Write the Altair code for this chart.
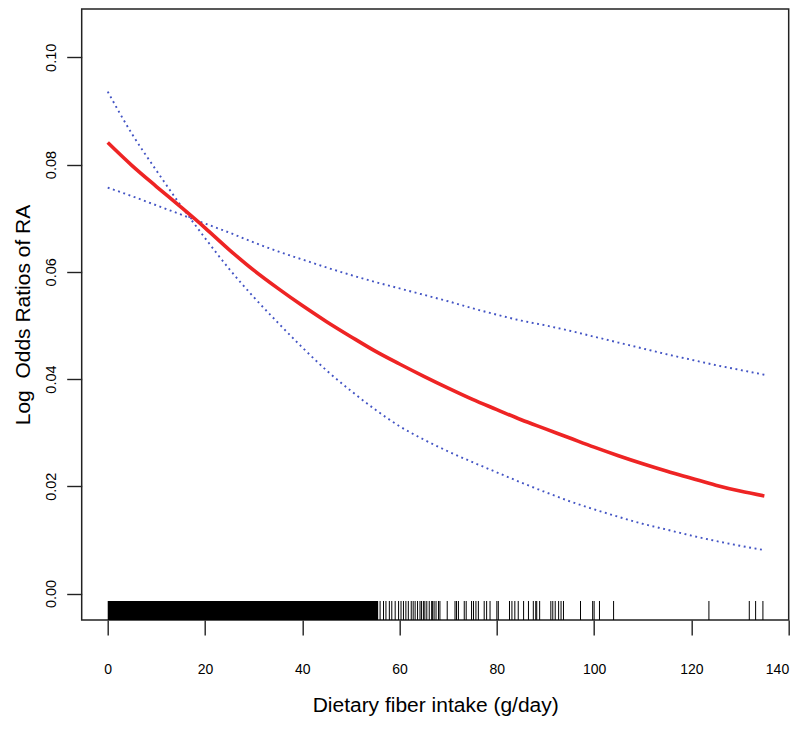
import altair as alt
import pandas as pd

# ---- data ----
fiber_x = [0, 5, 10, 15, 20, 25, 30, 35, 40, 45, 50, 55, 60, 65, 70, 75, 80, 85,
           90, 95, 100, 105, 110, 115, 120, 125, 130, 135]
log_or = [0.0841, 0.0798, 0.0759, 0.0721, 0.0682, 0.0641, 0.0603, 0.0569, 0.0537,
          0.0507, 0.0479, 0.0452, 0.0428, 0.0405, 0.0383, 0.0362, 0.0343, 0.0324,
          0.0307, 0.0290, 0.0273, 0.0257, 0.0242, 0.0228, 0.0215, 0.0202, 0.0191,
          0.0182]
ci_steep = [0.0936, 0.0857, 0.0789, 0.0724, 0.0663, 0.0605, 0.0553, 0.0505, 0.0459,
            0.0416, 0.0378, 0.0343, 0.0312, 0.0287, 0.0265, 0.0245, 0.0226, 0.0207,
            0.0189, 0.0172, 0.0157, 0.0143, 0.0130, 0.0119, 0.0108, 0.0098, 0.0089,
            0.0081]
ci_flat = [0.0757, 0.0741, 0.0724, 0.0707, 0.0690, 0.0673, 0.0655, 0.0638, 0.0623,
           0.0608, 0.0594, 0.0581, 0.0569, 0.0557, 0.0545, 0.0532, 0.0520, 0.0509,
           0.0500, 0.0490, 0.0479, 0.0468, 0.0457, 0.0446, 0.0436, 0.0426, 0.0417,
           0.0408]

# rug: a continuous dense band of observations, then sparse individual values
rug_dense_start = 0.0
rug_dense_end = 55.6
rug_sparse = [56.0, 56.7, 57.2, 57.9, 58.4, 59.1, 59.8, 60.3, 60.8, 61.3, 61.8, 62.4,
              62.8, 63.2, 63.7, 64.2, 64.5, 64.9, 65.2, 65.6, 66.1, 66.6, 66.8, 67.1,
              67.5, 68.0, 68.3, 69.8, 71.4, 71.7, 72.1, 73.3, 73.7, 74.8, 75.2, 75.7,
              76.2, 77.4, 77.9, 78.6, 80.0, 80.3, 82.6, 83.1, 83.7, 84.4, 85.5, 86.5,
              87.5, 88.0, 88.2, 88.8, 91.1, 91.5, 92.0, 92.7, 93.2, 93.7, 97.2, 99.7,
              100.0, 101.1, 104.0, 123.6, 131.9, 133.2, 134.7]

x_ticks = [0, 20, 40, 60, 80, 100, 120, 140]
y_ticks = [0.00, 0.02, 0.04, 0.06, 0.08, 0.10]

x_title = "Dietary fiber intake (g/day)"
y_title = "Log\u00a0 Odds Ratios of RA"

# ---- tables ----
fit_df = pd.DataFrame({"x": fiber_x, "y": log_or})
ci_df = pd.concat([
    pd.DataFrame({"x": fiber_x, "y": ci_steep, "band": "a"}),
    pd.DataFrame({"x": fiber_x, "y": ci_flat, "band": "b"}),
])
rug_df = pd.DataFrame({"x": rug_sparse})
dense_df = pd.DataFrame({"x": [rug_dense_start], "x2": [rug_dense_end]})

FONT = "Liberation Sans"
W, H = 707, 611

xscale = alt.Scale(domain=[-5.35, 140], nice=False, zero=False)
yscale = alt.Scale(domain=[-0.00494, 0.10901], nice=False, zero=False)

xaxis = alt.Axis(values=x_ticks, title=x_title, grid=False, domain=False,
                 tickSize=15, tickWidth=1.4, tickColor="#222",
                 labelFont=FONT, labelFontSize=14, labelColor="#000",
                 labelPadding=28, labelBaseline="top",
                 titleFont=FONT, titleFontSize=21, titleFontWeight="normal",
                 titleColor="#000", titlePadding=18, labelFlush=True)
yaxis = alt.Axis(values=y_ticks, format=".2f", title=y_title, grid=False,
                 domain=False, tickSize=15, tickWidth=1.4, tickColor="#222",
                 labelFont=FONT, labelFontSize=14.5, labelColor="#000",
                 labelAngle=270, labelAlign="center", labelBaseline="bottom",
                 labelPadding=8, labelFlush=False,
                 titleFont=FONT, titleFontSize=21, titleFontWeight="normal",
                 titleColor="#000", titlePadding=10)

base_x = alt.X("x:Q", scale=xscale, axis=xaxis)

fit = alt.Chart(fit_df).mark_line(color="#EE2424", strokeWidth=3.6,
                                  interpolate="monotone").encode(
    x=base_x,
    y=alt.Y("y:Q", scale=yscale, axis=yaxis),
)

ci = alt.Chart(ci_df).mark_line(color="#4354C4", strokeWidth=1.9,
                                 strokeDash=[1.9, 3.6],
                                 interpolate="monotone").encode(
    x=alt.X("x:Q", scale=xscale),
    y=alt.Y("y:Q", scale=yscale),
    detail="band:N",
)

rug_top = H - 19
dense = alt.Chart(dense_df).mark_rect(color="#000").encode(
    x=alt.X("x:Q", scale=xscale),
    x2="x2:Q",
    y=alt.value(rug_top),
    y2=alt.value(H),
)

rug = alt.Chart(rug_df).mark_rule(color="#000", strokeWidth=1).encode(
    x=alt.X("x:Q", scale=xscale),
    y=alt.value(rug_top),
    y2=alt.value(H),
)

chart = alt.layer(dense, rug, ci, fit).properties(
    width=W,
    height=H,
    autosize=alt.AutoSizeParams(type="none"),
    padding={"left": 73.7, "top": 1, "right": 3, "bottom": 100},
    background="white",
).configure_view(stroke="#222", strokeWidth=1.5)

chart.save("out.html", embed_options={"renderer": "svg", "actions": False})
